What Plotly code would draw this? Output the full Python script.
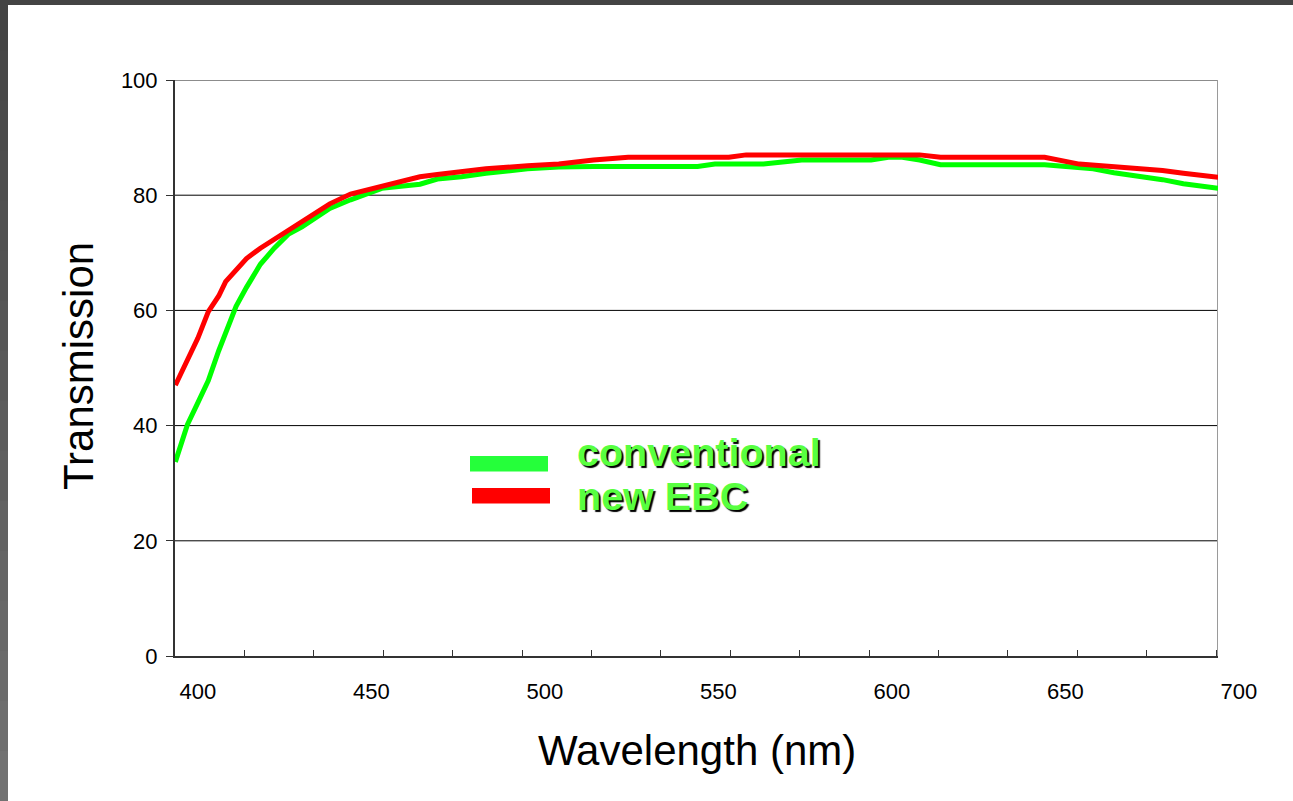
import plotly.graph_objects as go

# ---------------- data ----------------
wavelength = [393.5, 397, 400, 403, 406, 408, 411, 414, 418, 422, 426, 430, 438, 444,
              453, 464, 469, 476, 483, 495, 504, 514, 524, 544, 549, 553, 558, 563,
              574, 594, 599, 603, 608, 614, 644, 654, 658, 664, 673, 678, 684, 694]

conventional = [33.7, 40.2, 44.0, 47.8, 53.0, 56.3, 60.7, 64.0, 68.0, 70.8, 73.2, 74.5,
                77.7, 79.2, 81.2, 81.9, 82.8, 83.2, 83.8, 84.6, 84.9, 85.0, 85.0, 85.0,
                85.4, 85.4, 85.4, 85.4, 86.1, 86.1, 86.6, 86.6, 86.1, 85.3, 85.3, 84.9,
                84.6, 83.9, 83.2, 82.7, 82.0, 81.2]

new_ebc = [47.0, 51.5, 55.2, 59.8, 62.5, 65.0, 67.0, 69.0, 70.8, 72.3, 73.8, 75.4,
           78.5, 80.2, 81.6, 83.2, 83.6, 84.1, 84.6, 85.1, 85.4, 86.1, 86.6, 86.6,
           86.6, 86.6, 87.0, 87.0, 87.0, 87.0, 87.0, 87.0, 87.0, 86.6, 86.6, 85.4,
           85.2, 85.1, 84.6, 84.3, 83.8, 83.1]

series_names = ["conventional", "new EBC"]
x_tick_labels = [400, 450, 500, 550, 600, 650, 700]
y_ticks = [0, 20, 40, 60, 80, 100]

# ---------------- layout geometry ----------------
W, H = 1293, 801
L, R, T, B = 175, 40, 80, 145
plot_w = W - L - R
plot_h = H - T - B
px_per_nm = 3.47
x_min = 393.4
x_max = x_min + (1218 - L) / px_per_nm
main_dom_end = (1218 - L) / plot_w
x2_max = x_min + plot_w / px_per_nm

FONT = "Liberation Sans, Arial, sans-serif"


def px(xp):
    return (xp - L) / plot_w


def py(yp):
    return (H - B - yp) / plot_h


fig = go.Figure()
# empty helper trace so that the label axis (x2) is drawn
fig.add_trace(go.Scatter(x=x_tick_labels, y=[None] * len(x_tick_labels),
                         xaxis="x2", yaxis="y", mode="lines", showlegend=False,
                         hoverinfo="skip"))
fig.add_trace(go.Scatter(x=wavelength, y=conventional, mode="lines",
                         name=series_names[0],
                         line=dict(color="#00ff00", width=5)))
fig.add_trace(go.Scatter(x=wavelength, y=new_ebc, mode="lines",
                         name=series_names[1],
                         line=dict(color="#ff0000", width=5)))

shapes = []
# horizontal grid lines (inside the plot frame only)
for v in y_ticks[1:-1]:
    shapes.append(dict(type="line", xref="x", yref="y", x0=x_min, x1=x_max, y0=v, y1=v,
                       line=dict(color="#000000", width=1), layer="below"))
# frame: top and right
shapes.append(dict(type="line", xref="x", yref="y", x0=x_min, x1=x_max, y0=100, y1=100,
                   line=dict(color="#8c8c8c", width=2), layer="below"))
shapes.append(dict(type="line", xref="x", yref="y", x0=x_max, x1=x_max, y0=0, y1=100,
                   line=dict(color="#9a9a9a", width=2), layer="below"))

# slide border: top strip and left gradient strip
shapes.append(dict(type="rect", xref="paper", yref="paper", x0=px(0), x1=px(W),
                   y0=py(5), y1=py(0), fillcolor="#444444", line=dict(width=0), layer="above"))
n_bands = 16
for i in range(n_bands):
    y0p = H * i / n_bands
    y1p = H * (i + 1) / n_bands + 1
    g = int(0x44 + (0x72 - 0x44) * i / (n_bands - 1))
    shapes.append(dict(type="rect", xref="paper", yref="paper", x0=px(0), x1=px(8),
                       y0=py(y1p), y1=py(y0p), fillcolor=f"rgb({g},{g},{g})",
                       line=dict(width=0), layer="above"))

# legend bars
shapes.append(dict(type="rect", xref="paper", yref="paper", x0=px(470), x1=px(548),
                   y0=py(471.5), y1=py(456), fillcolor="#25ff3a", line=dict(width=0)))
shapes.append(dict(type="rect", xref="paper", yref="paper", x0=px(472), x1=px(550),
                   y0=py(503.5), y1=py(488), fillcolor="#ff0000", line=dict(width=0)))

annotations = []
leg_font = dict(family=FONT, size=39.5, color="#58ff40", weight="bold",
                shadow="2px 2px 1px #000000")
annotations.append(dict(text=series_names[0], xref="paper", yref="paper",
                        x=px(575), y=py(451.5), xanchor="left", yanchor="middle",
                        showarrow=False, font=leg_font))
annotations.append(dict(text=series_names[1], xref="paper", yref="paper",
                        x=px(575), y=py(495.5), xanchor="left", yanchor="middle",
                        showarrow=False, font=leg_font))
# axis titles
annotations.append(dict(text="Wavelength (nm)", xref="paper", yref="paper",
                        x=px(697), y=py(750), xanchor="center", yanchor="middle",
                        showarrow=False, font=dict(family=FONT, size=42, color="#000")))
annotations.append(dict(text="Transmission", xref="paper", yref="paper",
                        x=px(78), y=py(366), xanchor="center", yanchor="middle",
                        textangle=-90, showarrow=False,
                        font=dict(family=FONT, size=42, color="#000")))

fig.update_layout(
    width=W, height=H,
    margin=dict(l=L, r=R, t=T, b=B, pad=0),
    paper_bgcolor="white", plot_bgcolor="rgba(0,0,0,0)",
    showlegend=False,
    xaxis=dict(domain=[0, main_dom_end], range=[x_min, x_max], showgrid=False,
               zeroline=False, showline=True, linecolor="#333333", linewidth=2,
               ticks="inside", ticklen=6, tickcolor="#333333", tickwidth=1,
               tick0=x_min, dtick=20, showticklabels=False),
    xaxis2=dict(domain=[0, 1], range=[x_min, x2_max], anchor="y",
                showgrid=False, zeroline=False, showline=False, ticks="",
                tickvals=x_tick_labels, ticktext=[str(v) for v in x_tick_labels],
                tickfont=dict(family=FONT, size=22, color="#000"),
                ticklabelstandoff=20),
    yaxis=dict(range=[0, 100], tickvals=y_ticks, showgrid=False,
               zeroline=False, showline=True, linecolor="#333333",
               linewidth=2, ticks="outside", ticklen=7, tickcolor="#333333",
               tickfont=dict(family=FONT, size=22, color="#000"),
               ticklabelstandoff=4),
    shapes=shapes,
    annotations=annotations,
)

fig.write_html("out.html", config={"displayModeBar": False},
               post_script="document.body.style.margin='0';document.body.style.overflow='hidden';")
